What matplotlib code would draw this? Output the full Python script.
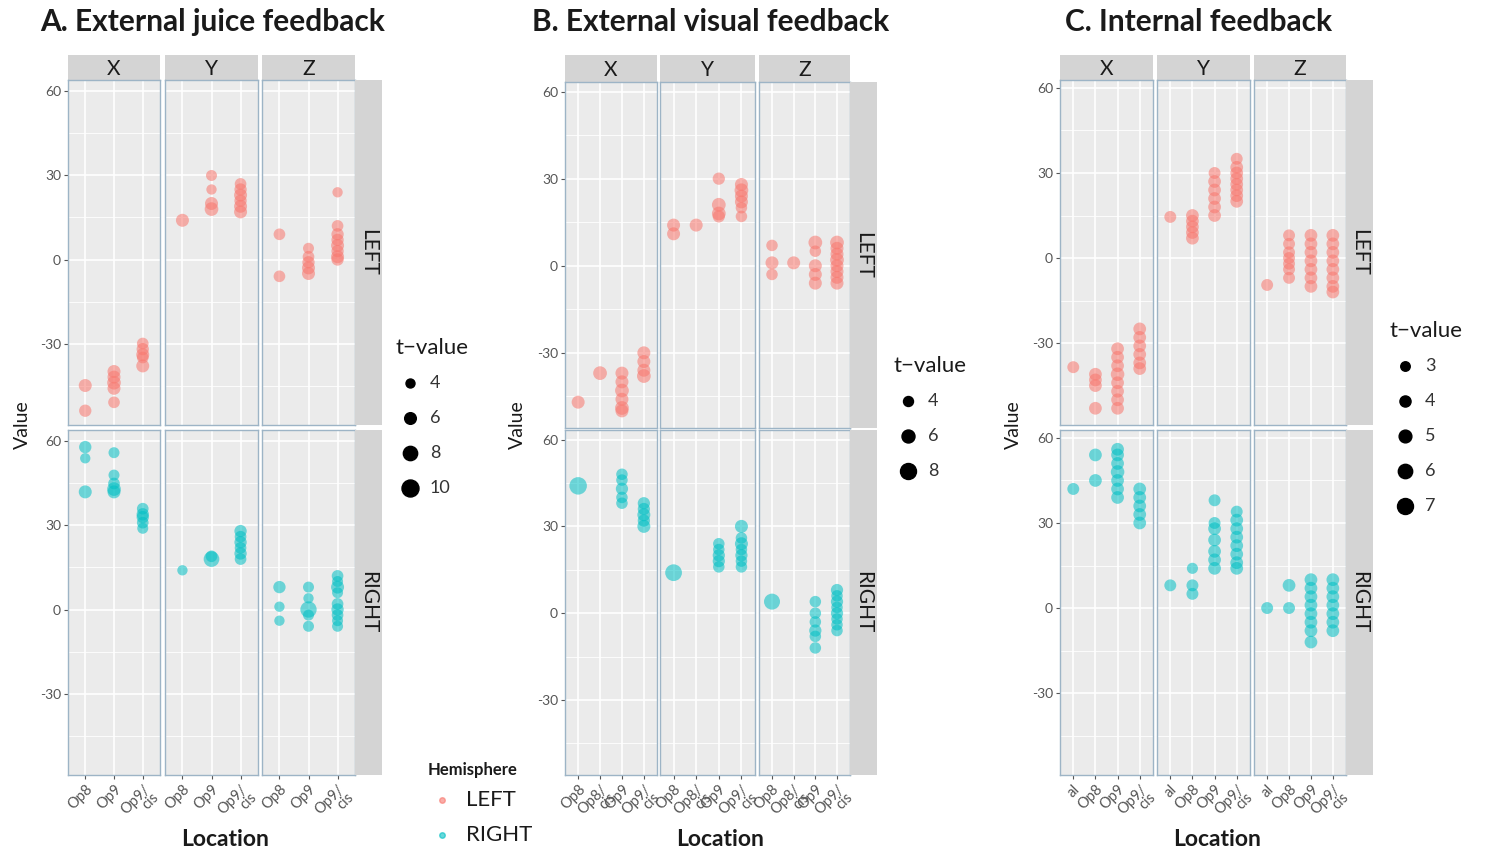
import matplotlib.pyplot as plt

plt.rcParams['font.family'] = ['Lato', 'DejaVu Sans']

W, H = 1488, 858
HEMI_COLORS = {"LEFT": "#F8766D", "RIGHT": "#00BFC4"}
AXES = ["X", "Y", "Z"]
HEMIS = ["LEFT", "RIGHT"]

a_locs = ["Op8", "Op9", "Op9/\ncis"]
b_locs = ["Op8", "Op8/\ncis", "Op9", "Op9/\ncis"]
c_locs = ["aI", "Op8", "Op9", "Op9/\ncis"]

# (axis, location index) -> list of (value, t-value)
a_left = {
    ("X", 0): [(-45, 7), (-54, 6.5)],
    ("X", 1): [(-40, 7), (-42, 7), (-44, 7.5), (-46, 7), (-51, 6)],
    ("X", 2): [(-30, 6), (-32, 6.5), (-34, 7), (-35, 6), (-38, 7)],
    ("Y", 0): [(14, 7)],
    ("Y", 1): [(30, 5.5), (25, 5), (20, 7), (18, 7.5)],
    ("Y", 2): [(17, 7), (19, 7), (21, 6.5), (23, 7), (25, 6.5), (27, 6)],
    ("Z", 0): [(9, 6), (-6, 6)],
    ("Z", 1): [(4, 5.5), (1, 6), (-1, 6.5), (-3, 7), (-5, 7)],
    ("Z", 2): [(24, 5), (12, 6), (9, 6.5), (7, 6.5), (5, 7), (3, 6.5), (1, 7), (0, 6.5)],
}
a_right = {
    ("X", 0): [(58, 6.5), (54, 5), (42, 7)],
    ("X", 1): [(56, 5.5), (48, 5.5), (45, 6), (43, 7.5), (42, 7)],
    ("X", 2): [(36, 6), (34, 6.5), (33, 6.5), (31, 6), (29, 5.5)],
    ("Y", 0): [(14, 5)],
    ("Y", 1): [(18, 9), (19, 6)],
    ("Y", 2): [(28, 6.5), (26, 6), (24, 6.5), (22, 6), (20, 6.5), (18, 6)],
    ("Z", 0): [(8, 6.5), (1, 5), (-4, 5)],
    ("Z", 1): [(8, 5.5), (4, 5), (0, 9.5), (-2, 5.5), (-6, 5.5)],
    ("Z", 2): [(12, 6), (10, 5.5), (8, 7), (6, 5.5), (2, 6), (0, 6.5), (-2, 6), (-4, 5.5), (-6, 5.5)],
}
b_left = {
    ("X", 0): [(-47, 6)],
    ("X", 1): [(-37, 6.5)],
    ("X", 2): [(-37, 6), (-40, 6), (-43, 6.5), (-46, 6), (-49, 6.5), (-50, 6)],
    ("X", 3): [(-30, 6), (-33, 6), (-36, 6), (-38, 6.5)],
    ("Y", 0): [(14, 6), (11, 6)],
    ("Y", 1): [(14, 6)],
    ("Y", 2): [(30, 5.5), (21, 6.5), (18, 6.5), (17, 5.5)],
    ("Y", 3): [(28, 6), (26, 6.5), (24, 6), (22, 6), (20, 5), (17, 5)],
    ("Z", 0): [(7, 5), (1, 6), (-3, 5)],
    ("Z", 1): [(1, 6)],
    ("Z", 2): [(8, 6.5), (5, 5), (0, 6), (-3, 6), (-6, 6)],
    ("Z", 3): [(8, 6.5), (6, 6), (4, 6), (2, 6.5), (0, 6), (-2, 6), (-4, 6), (-6, 6)],
}
b_right = {
    ("X", 0): [(44, 9)],
    ("X", 2): [(48, 5), (46, 5), (43, 5.5), (40, 5), (38, 5)],
    ("X", 3): [(38, 5.5), (36, 5.5), (34, 6), (32, 5.5), (30, 6)],
    ("Y", 0): [(14, 8.5)],
    ("Y", 2): [(24, 5), (22, 5), (20, 5.5), (18, 5.5), (16, 5)],
    ("Y", 3): [(30, 6), (26, 5), (24, 6), (22, 5), (20, 5.5), (18, 5), (16, 5)],
    ("Z", 0): [(4, 8)],
    ("Z", 2): [(4, 5), (0, 5), (-3, 5), (-6, 5.5), (-8, 5), (-12, 5)],
    ("Z", 3): [(8, 5.5), (6, 5), (4, 5.5), (2, 5), (0, 5.5), (-2, 5), (-4, 5), (-6, 5)],
}
c_left = {
    ("X", 0): [(-38.5, 4.5)],
    ("X", 1): [(-41, 5), (-43, 5), (-45, 5), (-53, 5)],
    ("X", 2): [(-32, 5), (-35, 5), (-38, 5), (-41, 5.5), (-44, 5), (-47, 5), (-50, 5), (-53, 5)],
    ("X", 3): [(-25, 5), (-28, 5), (-31, 5), (-34, 5), (-37, 5), (-39, 5)],
    ("Y", 0): [(14.5, 4.5)],
    ("Y", 1): [(15, 5), (13, 5), (11, 5), (9, 5), (7, 5)],
    ("Y", 2): [(30, 4.5), (27, 5), (24, 5), (21, 5), (18, 5), (15, 5)],
    ("Y", 3): [(35, 4.5), (32, 5), (30, 5), (28, 5), (26, 5), (24, 5), (22, 5), (20, 5)],
    ("Z", 0): [(-9.5, 4.5)],
    ("Z", 1): [(8, 4.5), (5, 4.5), (2, 4.5), (0, 4.5), (-2, 4.5), (-4, 4.5), (-7, 4.5)],
    ("Z", 2): [(8, 5), (5, 5), (2, 5), (-1, 5), (-4, 5), (-7, 5), (-10, 5)],
    ("Z", 3): [(8, 5), (5, 5), (2, 5), (-1, 5), (-4, 5), (-7, 5), (-10, 5), (-12, 5)],
}
c_right = {
    ("X", 0): [(42, 4.5)],
    ("X", 1): [(54, 5), (45, 5)],
    ("X", 2): [(56, 5), (54, 5), (51, 5), (48, 5.5), (45, 5), (42, 5), (39, 5)],
    ("X", 3): [(42, 5), (39, 5), (36, 5), (33, 5), (30, 5)],
    ("Y", 0): [(8, 4.5)],
    ("Y", 1): [(14, 4), (8, 4.5), (5, 4.5)],
    ("Y", 2): [(38, 4.5), (30, 4.5), (28, 5), (24, 5), (20, 5), (17, 5), (14, 5)],
    ("Y", 3): [(34, 4.5), (31, 5), (28, 5), (25, 5), (22, 5), (19, 5), (16, 5), (14, 5)],
    ("Z", 0): [(0, 4.5)],
    ("Z", 1): [(8, 5), (0, 4.5)],
    ("Z", 2): [(10, 5), (7, 5), (4, 5), (1, 5), (-2, 5), (-5, 5), (-8, 5), (-12, 5)],
    ("Z", 3): [(10, 5), (7, 5), (4, 5), (1, 5), (-2, 5), (-5, 5), (-8, 5)],
}

a_legend_t = [4, 6, 8, 10]
b_legend_t = [4, 6, 8]
c_legend_t = [3, 4, 5, 6, 7]

fig = plt.figure(figsize=(W / 100, H / 100), dpi=100)


def box(x0, y0, x1, y1):
    return [x0 / W, 1 - y1 / H, (x1 - x0) / W, (y1 - y0) / H]


def ftext(x, y, s, **kw):
    fig.text(x / W, 1 - y / H, s, **kw)


def marker_s(t, spec):
    t0, d0, t1, d1 = spec
    d = d0 + (t - t0) * (d1 - d0) / (t1 - t0)
    return (d * 0.72) ** 2


def draw_panel(title, title_x, locs, data, cols, rows, strip_x, ylim, size_spec,
               legend_t, legend_xy, value_x, loc_x):
    ftext(title_x, 22, title, fontsize=21.5, fontweight='bold', va='center', color='#1a1a1a')
    ftext(value_x, 425, "Value", fontsize=14, rotation=90, va='center', ha='center', color='#1a1a1a')
    ftext(loc_x, 840, "Location", fontsize=16.5, fontweight='bold', va='center', ha='center',
          color='#1a1a1a')
    n = len(locs)
    for ci, axname in enumerate(AXES):
        x0, x1 = cols[ci]
        sax = fig.add_axes(box(x0, 55, x1, rows[0][0]))
        sax.set_facecolor('#D4D4D4')
        sax.set_xticks([])
        sax.set_yticks([])
        for sp in sax.spines.values():
            sp.set_visible(False)
        sax.text(0.5, 0.45, axname, transform=sax.transAxes, ha='center', va='center',
                 fontsize=15, color='#1a1a1a')
        for ri, hemi in enumerate(HEMIS):
            y0, y1 = rows[ri]
            ax = fig.add_axes(box(x0, y0, x1, y1))
            ax.set_facecolor('#EBEBEB')
            ax.set_xlim(0.4, n + 0.6)
            ax.set_ylim(*ylim)
            for v in [-45, -15, 15, 45]:
                ax.axhline(v, color='white', lw=0.6, zorder=0)
            for v in [-30, 0, 30, 60]:
                ax.axhline(v, color='white', lw=1.2, zorder=0)
            for k in range(n):
                ax.axvline(k + 1, color='white', lw=1.2, zorder=0)
            d = data[ri]
            for li in range(n):
                pts = d.get((axname, li), [])
                if not pts:
                    continue
                vals = [p[0] for p in pts]
                sizes = [marker_s(p[1], size_spec) for p in pts]
                ax.scatter([li + 1] * len(pts), vals, s=sizes, color=HEMI_COLORS[hemi],
                           alpha=0.55, edgecolors='none', zorder=3)
            for sp in ax.spines.values():
                sp.set_color('#9DB4C6')
                sp.set_linewidth(1.0)
            ax.set_yticks([-30, 0, 30, 60])
            ax.set_xticks(range(1, n + 1))
            ax.tick_params(length=3, color='#555555', labelsize=10, labelcolor='#555555', pad=2)
            if ci == 0:
                ax.set_yticklabels(['-30', '0', '30', '60'])
            else:
                ax.tick_params(axis='y', length=0)
                ax.set_yticklabels([])
            if ri == 1:
                ax.set_xticklabels(locs, rotation=45, ha='right', rotation_mode='anchor',
                                   fontsize=10.5, linespacing=0.85)
            else:
                ax.tick_params(axis='x', length=0)
                ax.set_xticklabels([])
    for ri, hemi in enumerate(HEMIS):
        y0, y1 = rows[ri]
        rax = fig.add_axes(box(strip_x[0], y0, strip_x[1], y1))
        rax.set_facecolor('#D4D4D4')
        rax.set_xticks([])
        rax.set_yticks([])
        for sp in rax.spines.values():
            sp.set_visible(False)
        rax.text(0.5, 0.5, hemi, transform=rax.transAxes, rotation=-90, ha='center',
                 va='center', fontsize=15, color='#1a1a1a')
    # size legend
    lx, ly = legend_xy
    ftext(lx - 15, ly - 35, "t\u2212value", fontsize=16, va='center', color='#1a1a1a')
    for k, t in enumerate(legend_t):
        yy = ly + 35 * k
        fig.add_artist(plt.Line2D([lx / W], [1 - yy / H], marker='o', color='black', ls='none',
                                  markersize=(marker_s(t, size_spec)) ** 0.5,
                                  transform=fig.transFigure))
        ftext(lx + 20, yy, str(t), fontsize=13, va='center', color='#333333')


draw_panel("A. External juice feedback", 40, a_locs, [a_left, a_right],
           [(68, 160), (165, 258), (262, 355)], [(80, 425), (430, 775)], (355, 382),
           (-59.1, 64.1), (4, 9, 10, 17), a_legend_t, (410, 383), 22, 225)
draw_panel("B. External visual feedback", 532, b_locs, [b_left, b_right],
           [(565, 657), (660, 755), (759, 850)], [(82, 428), (430, 775)], (850, 877),
           (-55.9, 63.3), (4, 10, 8, 16), b_legend_t, (908, 401), 517, 720)
draw_panel("C. Internal feedback", 1065, c_locs, [c_left, c_right],
           [(1060, 1153), (1157, 1250), (1254, 1346)], [(80, 425), (430, 775)], (1346, 1373),
           (-58.9, 62.8), (3, 9.5, 7, 16), c_legend_t, (1405, 366), 1013, 1217)

# hemisphere legend
ftext(428, 770, "Hemisphere", fontsize=12, fontweight='bold', va='center', color='#1a1a1a')
for k, hemi in enumerate(HEMIS):
    yy = 800 + 35 * k
    fig.add_artist(plt.Line2D([442 / W], [1 - yy / H], marker='o', color=HEMI_COLORS[hemi],
                              alpha=0.6, ls='none', markersize=4, transform=fig.transFigure))
    ftext(466, yy, hemi, fontsize=16, va='center', color='#1a1a1a')

fig.savefig("out.png", dpi=100)
